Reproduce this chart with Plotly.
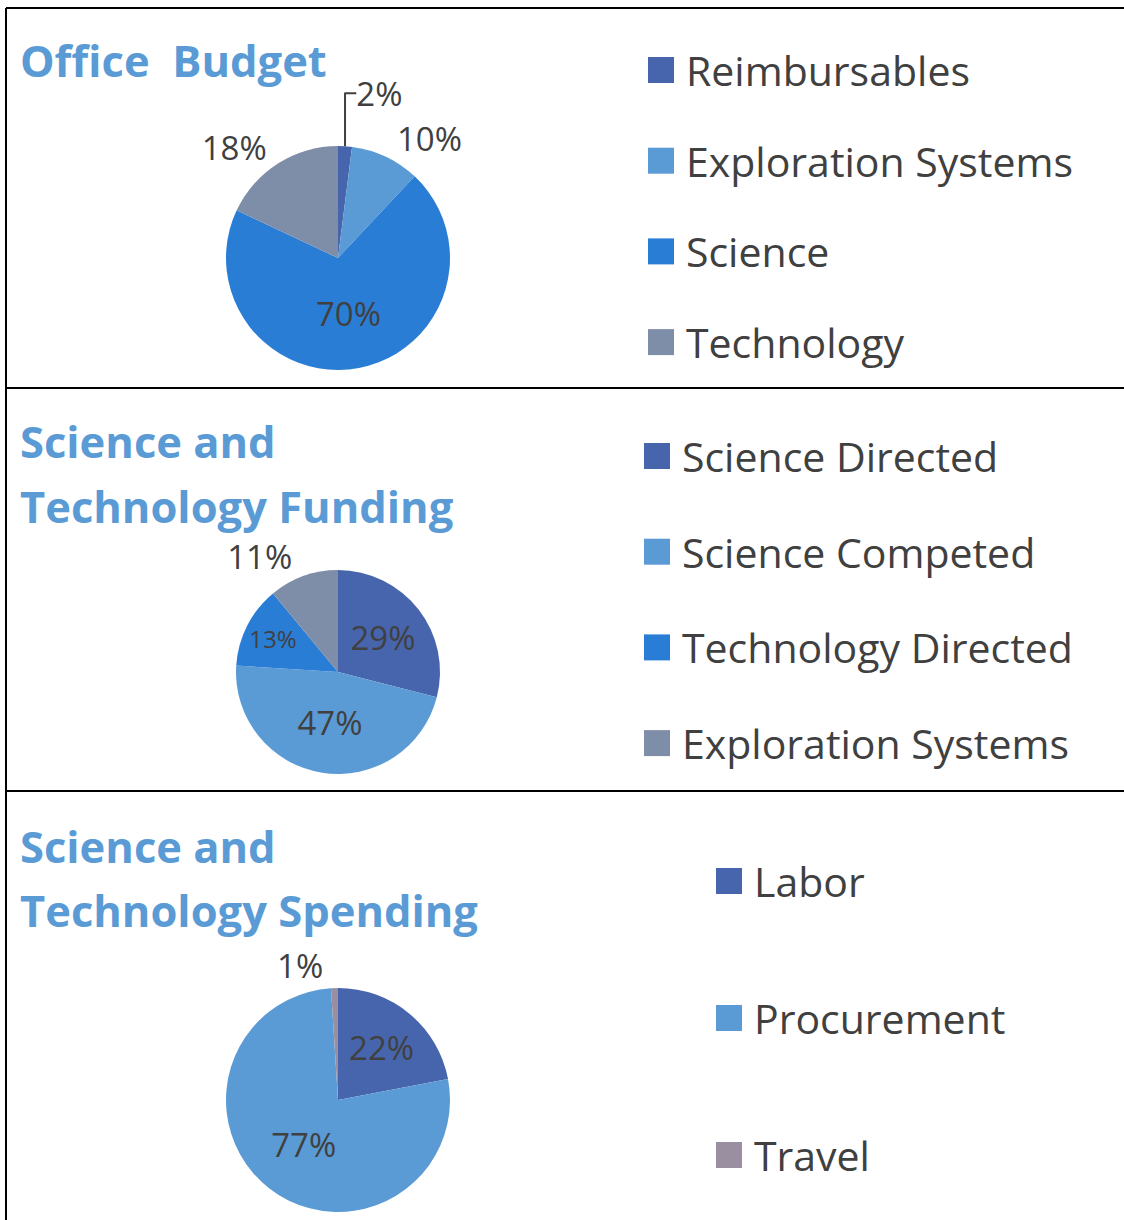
import plotly.graph_objects as go

# ---------------- data ----------------
ob_title = ["Office  Budget"]
ob_labels = ["Reimbursables", "Exploration Systems", "Science", "Technology"]
ob_values = [2, 10, 70, 18]

stf_title = ["Science and", "Technology Funding"]
stf_labels = ["Science Directed", "Science Competed", "Technology Directed", "Exploration Systems"]
stf_values = [29, 47, 13, 11]

sts_title = ["Science and", "Technology Spending"]
sts_labels = ["Labor", "Procurement", "Travel"]
sts_values = [22, 77, 1]

# ---------------- styling ----------------
W, H = 1124, 1220
FONT = "'Open Sans', 'Noto Sans', Lato, sans-serif"
TITLE_COLOR = "#5b9bd5"
TEXT_COLOR = "#404040"
DARK = "#4765ad"
LIGHT = "#5b9bd5"
BRIGHT = "#2a7dd5"
GREY = "#7f8ea8"
MAUVE = "#9a8fa0"

ob_colors = [DARK, LIGHT, BRIGHT, GREY]
stf_colors = [DARK, LIGHT, BRIGHT, GREY]
sts_colors = [DARK, LIGHT, MAUVE]


def px(x):
    return x / W


def py(y):
    return 1 - y / H


panels = [
    dict(title=ob_title, title_y=[60], labels=ob_labels, values=ob_values, colors=ob_colors,
         center=(338, 258), r=112, pos=["outside", "outside", "inside", "outside"],
         leg_x=648, leg_y0=70, leg_dy=90.7),
    dict(title=stf_title, title_y=[442, 507], labels=stf_labels, values=stf_values, colors=stf_colors,
         center=(338, 672), r=102, pos=["inside", "inside", "inside", "outside"],
         leg_x=644, leg_y0=456, leg_dy=95.7),
    dict(title=sts_title, title_y=[846, 910], labels=sts_labels, values=sts_values, colors=sts_colors,
         center=(338, 1100), r=112, pos=["inside", "inside", "outside"],
         leg_x=716, leg_y0=881, leg_dy=137),
]

fig = go.Figure()
shapes = []
annotations = []

for p in panels:
    cx, cy = p["center"]
    r = p["r"]
    fig.add_trace(go.Pie(
        labels=p["labels"], values=p["values"], sort=False, direction="clockwise",
        rotation=0, hole=0,
        marker=dict(colors=p["colors"], line=dict(width=0)),
        texttemplate="%{value}%", textposition=p["pos"],
        insidetextorientation="horizontal",
        textfont=dict(family=FONT, size=33, color=TEXT_COLOR),
        domain=dict(x=[px(cx - r), px(cx + r)], y=[py(cy + r), py(cy - r)]),
        showlegend=False, hoverinfo="label+percent",
    ))
    # title, one annotation per line
    for line, ty in zip(p["title"], p["title_y"]):
        annotations.append(dict(
            text="<b>" + line + "</b>", x=px(18), y=py(ty),
            xref="paper", yref="paper", xanchor="left", yanchor="middle",
            align="left", showarrow=False,
            font=dict(family=FONT, size=43.5, color=TITLE_COLOR),
        ))
    # legend (manual, one entry per category)
    for i, (lab, col) in enumerate(zip(p["labels"], p["colors"])):
        yc = p["leg_y0"] + i * p["leg_dy"]
        shapes.append(dict(type="rect", xref="paper", yref="paper",
                           x0=px(p["leg_x"]), x1=px(p["leg_x"] + 26),
                           y0=py(yc + 13), y1=py(yc - 13),
                           fillcolor=col, line=dict(width=0)))
        annotations.append(dict(
            text=lab, x=px(p["leg_x"] + 36), y=py(yc),
            xref="paper", yref="paper", xanchor="left", yanchor="middle",
            showarrow=False, font=dict(family=FONT, size=41, color=TEXT_COLOR),
        ))

# panel borders
border = dict(color="black", width=2)
shapes += [
    dict(type="line", xref="paper", yref="paper", x0=px(6), x1=1, y0=py(8), y1=py(8), line=border),
    dict(type="line", xref="paper", yref="paper", x0=px(6), x1=px(6), y0=py(8), y1=0, line=border),
    dict(type="line", xref="paper", yref="paper", x0=px(6), x1=1, y0=py(388), y1=py(388), line=border),
    dict(type="line", xref="paper", yref="paper", x0=px(6), x1=1, y0=py(791), y1=py(791), line=border),
]

fig.update_layout(
    width=W, height=H,
    margin=dict(l=0, r=0, t=0, b=0),
    paper_bgcolor="white", plot_bgcolor="white",
    shapes=shapes, annotations=annotations,
    font=dict(family=FONT, color=TEXT_COLOR),
    showlegend=False,
)

fig.write_html("out.html", config={"displayModeBar": False},
               post_script="document.body.style.margin='0';")
